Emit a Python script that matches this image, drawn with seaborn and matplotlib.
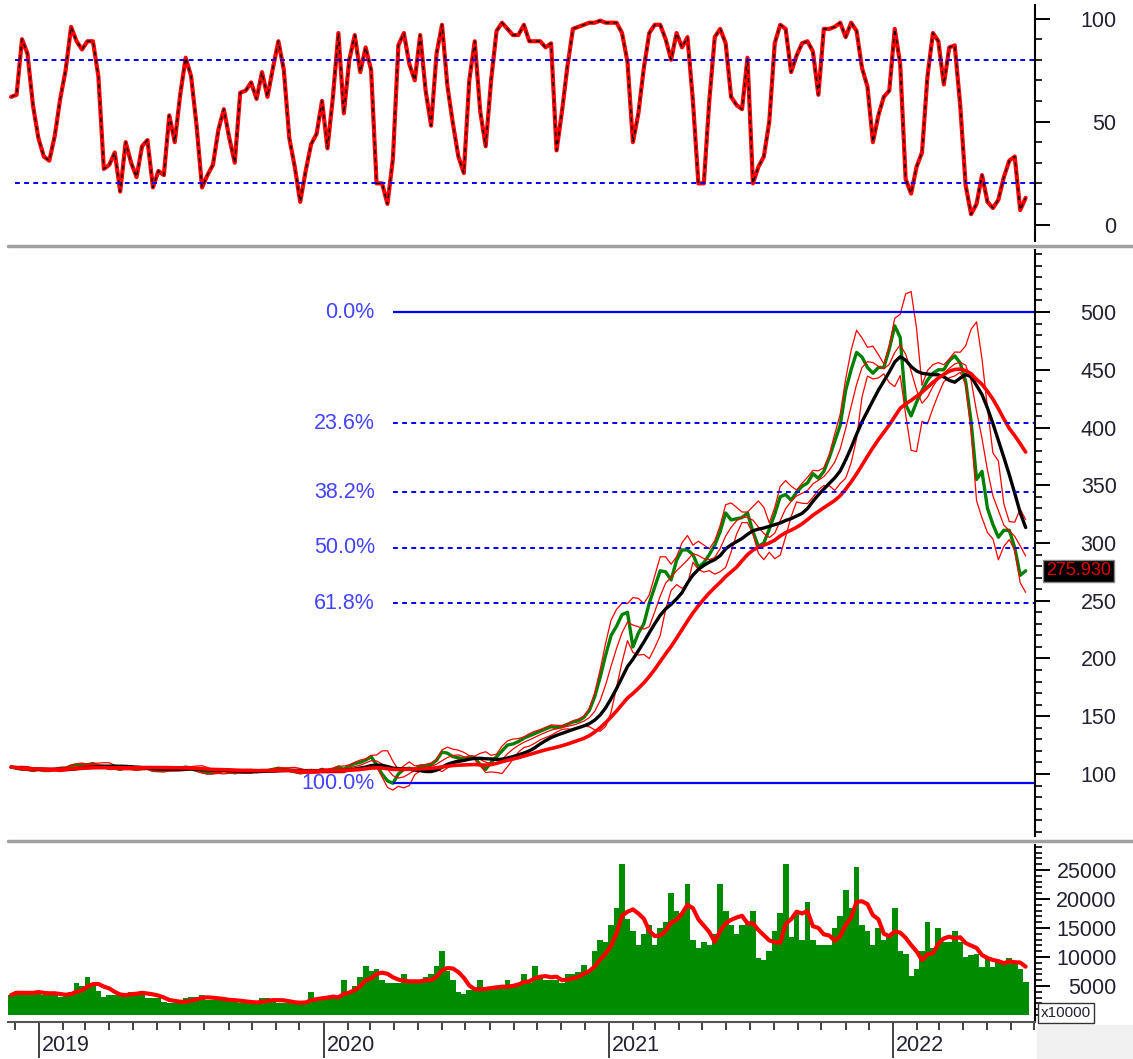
import pandas as pd
import matplotlib
matplotlib.use("Agg")
import matplotlib.pyplot as plt
import matplotlib.dates as mdates
import matplotlib.transforms as mtransforms
from matplotlib.lines import Line2D
from matplotlib.patches import Rectangle
import seaborn as sns

# weekly samples, first week starting 2018-11-26
start = "2018-11-26"

osc = [62, 63, 90, 83, 58, 42, 33, 31, 43, 61,
       75, 96, 89, 85, 89, 89, 72, 27, 29, 35,
       16, 40, 30, 23, 38, 41, 18, 26, 24, 53,
       40, 63, 81, 72, 48, 18, 24, 29, 46, 56,
       42, 30, 64, 65, 69, 61, 74, 62, 76, 89,
       75, 42, 28, 11, 26, 39, 44, 60, 37, 62,
       93, 54, 80, 92, 74, 86, 75, 20, 20, 10,
       32, 87, 93, 78, 70, 92, 65, 48, 83, 97,
       67, 49, 33, 25, 70, 89, 55, 38, 70, 94,
       98, 95, 92, 92, 97, 89, 89, 89, 86, 88,
       36, 55, 77, 95, 96, 97, 98, 98, 99, 98,
       98, 98, 93, 79, 40, 54, 76, 93, 97, 97,
       90, 80, 93, 86, 91, 60, 20, 20, 60, 91,
       95, 88, 62, 58, 56, 81, 20, 28, 33, 50,
       88, 97, 95, 74, 82, 88, 89, 84, 63, 95,
       95, 96, 98, 91, 98, 94, 76, 67, 40, 53,
       62, 65, 95, 78, 22, 15, 28, 35, 72, 93,
       89, 68, 86, 87, 58, 19, 5, 10, 24, 11,
       8, 12, 23, 31, 33, 7, 13]

close = [106, 105, 104, 104, 103, 104, 103, 103, 104, 105,
         105, 107, 108, 108, 108, 109, 107, 106, 105, 105,
         104, 106, 105, 104, 105, 105, 103, 103, 103, 104,
         104, 105, 106, 105, 103, 102, 101, 101, 102, 103,
         102, 101, 102, 103, 103, 102, 103, 103, 104, 105,
         104, 103, 102, 101, 102, 103, 102, 104, 102, 104,
         106, 104, 107, 109, 110, 112, 115, 108, 100, 94,
         92, 100, 104, 105, 104, 107, 107, 108, 112, 119,
         118, 115, 114, 113, 115, 114, 108, 104, 110, 115,
         120, 125, 126, 128, 131, 133, 135, 137, 139, 141,
         140, 141, 143, 145, 146, 149, 155, 167, 184, 203,
         220, 228, 238, 240, 210, 222, 230, 248, 262, 276,
         275, 268, 285, 294, 294, 290, 279, 283, 290, 298,
         310, 326, 320, 321, 322, 326, 310, 297, 300, 312,
         325, 340, 342, 337, 344, 349, 352, 360, 356, 362,
         374, 388, 402, 432, 450, 465, 461, 452, 447, 452,
         452, 468, 488, 478, 420, 410, 422, 432, 441, 447,
         450, 450, 458, 462, 456, 440, 405, 355, 362, 330,
         316, 305, 311, 311, 296, 272, 275.93]

volume = [3450, 4200, 3800, 3800, 3800, 4200, 3450, 3450, 3800, 3150,
          3600, 4000, 5500, 5000, 6500, 5600, 4200, 3150, 3450, 3450,
          3450, 3600, 4000, 3800, 4200, 2900, 2900, 2900, 2200, 2070,
          2070, 2200, 2900, 3150, 3150, 3400, 2600, 2600, 2600, 2600,
          2600, 2400, 2070, 2070, 2070, 2200, 2900, 2900, 2700, 2070,
          2070, 2070, 2070, 2300, 2300, 4000, 2900, 2900, 2900, 3150,
          3300, 6000, 4000, 5000, 6500, 8500, 7500, 8000, 6000, 5500,
          5500, 5500, 7000, 5500, 5500, 5500, 6500, 7000, 8500, 11000,
          7500, 6000, 4000, 3600, 4300, 4300, 6000, 4300, 4300, 4900,
          4900, 6000, 5000, 5500, 7000, 5500, 8500, 6500, 6000, 6000,
          6000, 5500, 7000, 7000, 7450, 8600, 7800, 11000, 13000, 12500,
          15500, 18500, 26000, 16500, 14500, 12000, 14000, 15500, 12000, 15000,
          16000, 21000, 18000, 17500, 22500, 13000, 11500, 12500, 12000, 14000,
          22500, 18000, 15500, 14000, 15500, 16000, 18000, 9800, 9500, 11000,
          14500, 17500, 26000, 13500, 17500, 13000, 19500, 13000, 12000, 12000,
          12000, 15000, 17000, 21500, 18500, 25500, 15500, 14500, 12000, 15000,
          13000, 13500, 18500, 11000, 10500, 6800, 8000, 11000, 16000, 11500,
          15000, 12500, 12500, 14500, 12500, 10000, 10300, 10500, 8300, 10000,
          8300, 9300, 8800, 9800, 9300, 8000, 5750]

fib_high = 500
fib_low = 92
fib_start = "2020-03-30"
fib_levels = [0.0, 23.6, 38.2, 50.0, 61.8, 100.0]
years = [2019, 2020, 2021, 2022]
last_price = close[-1]

df = pd.DataFrame({
    "date": pd.date_range(start, periods=len(close), freq="7D"),
    "close": close,
    "osc": osc,
    "volume": volume,
})
df["ma10"] = df["close"].rolling(10, min_periods=1).mean()
df["ma20"] = df["close"].rolling(20, min_periods=1).mean()
bb_mid = df["close"].rolling(4, min_periods=1).mean()
bb_sd = df["close"].rolling(4, min_periods=1).std(ddof=0).fillna(0)
df["bb_mid"] = bb_mid
df["bb_up"] = bb_mid + 2 * bb_sd
df["bb_lo"] = bb_mid - 2 * bb_sd
df["vol_ma"] = df["volume"].rolling(5, min_periods=1).mean()

sns.set_style("white")
plt.rcParams["font.family"] = ["Liberation Sans", "DejaVu Sans"]

W, H = 1133, 1059
fig = plt.figure(figsize=(W / 100, H / 100), dpi=100)


def rect(top, bottom, left=8, right=1035):
    return [left / W, 1 - bottom / H, (right - left) / W, (bottom - top) / H]


ax_osc = fig.add_axes(rect(5, 241))
ax_px = fig.add_axes(rect(250, 836))
ax_vol = fig.add_axes(rect(845, 1022))

t0 = pd.Timestamp(start)
xlim = (t0 - pd.Timedelta(days=4), t0 + pd.Timedelta(days=1314))
label_color = "#222233"


def right_axis(ax, major, minor):
    ax.yaxis.tick_right()
    ax.set_yticks(major, labels=[str(v) for v in major])
    ax.set_yticks(minor, minor=True)
    ax.tick_params(axis="y", which="both", right=True, left=False)
    ax.tick_params(axis="y", which="major", length=10.8, width=1.4, pad=48,
                   labelsize=15.5, labelcolor=label_color, color="black")
    ax.tick_params(axis="y", which="minor", length=5, width=1.2, color="black")
    plt.setp(ax.get_yticklabels(), ha="right")
    for side in ("left", "top", "bottom"):
        ax.spines[side].set_visible(False)
    ax.spines["right"].set_color("black")
    ax.spines["right"].set_linewidth(1.5)
    ax.set_xlim(*xlim)
    ax.set_xlabel("")
    ax.set_ylabel("")


# oscillator panel
sns.lineplot(data=df, x="date", y="osc", ax=ax_osc, color="#ff0000", lw=3, estimator=None)
sns.lineplot(data=df, x="date", y="osc", ax=ax_osc, color="black", lw=1, ls=(0, (3, 3)),
             estimator=None)
for lvl in (80, 20):
    ax_osc.axhline(lvl, xmin=0.007, color="#0000ff", lw=1.4, ls=(0, (2.5, 2.2)))
ax_osc.set_ylim(-8, 106.6)
right_axis(ax_osc, [0, 50, 100], list(range(0, 101, 10)))
ax_osc.tick_params(axis="x", bottom=False, labelbottom=False)

# price panel
sns.lineplot(data=df, x="date", y="close", ax=ax_px, color="#008000", lw=2.4, estimator=None)
for col in ("bb_up", "bb_mid", "bb_lo"):
    sns.lineplot(data=df, x="date", y=col, ax=ax_px, color="#ff0000", lw=0.9, estimator=None)
sns.lineplot(data=df, x="date", y="ma10", ax=ax_px, color="black", lw=2.4, estimator=None)
sns.lineplot(data=df, x="date", y="ma20", ax=ax_px, color="#ff0000", lw=2.6, estimator=None)

fib_x0 = pd.Timestamp(fib_start)
for lvl in fib_levels:
    price = fib_high - (fib_high - fib_low) * lvl / 100
    solid = lvl in (0.0, 100.0)
    ax_px.hlines(price, fib_x0, xlim[1], color="#0000ff", lw=1.6 if solid else 1.4,
                 ls="-" if solid else (0, (2.5, 2.2)))
    ax_px.annotate(f"{lvl:.1f}%", xy=(fib_x0, price), xytext=(-13, 0),
                   textcoords="offset points", ha="right", va="center",
                   fontsize=15.5, color="#4444ff")

ax_px.set_ylim(46.3, 553.7)
right_axis(ax_px, list(range(100, 501, 50)), list(range(50, 551, 10)))
ax_px.tick_params(axis="x", bottom=False, labelbottom=False)

trans = mtransforms.blended_transform_factory(ax_px.transAxes, ax_px.transData)
ax_px.text(1.0107, last_price, f"{last_price:.3f}", transform=trans, ha="left", va="center",
           fontsize=13, color="#e00000",
           bbox=dict(boxstyle="square,pad=0.15", fc="black", ec="#888888", lw=1))

# volume panel
ax_vol.bar(df["date"], df["volume"], width=7.4, color="#008c00", linewidth=0)
sns.lineplot(data=df, x="date", y="vol_ma", ax=ax_vol, color="#ff0000", lw=3, estimator=None)
ax_vol.set_ylim(-1207, 29300)
right_axis(ax_vol, list(range(5000, 25001, 5000)), list(range(0, 29001, 1000)))
ax_vol.spines["bottom"].set_visible(True)
ax_vol.spines["bottom"].set_color("#555555")
ax_vol.spines["bottom"].set_linewidth(1.5)

ax_vol.xaxis.set_major_locator(mdates.YearLocator())
ax_vol.xaxis.set_minor_locator(mdates.MonthLocator())
ax_vol.tick_params(axis="x", which="both", bottom=True, direction="out")
ax_vol.tick_params(axis="x", which="major", length=26, width=1.3, color="#333333",
                   labelbottom=False)
ax_vol.tick_params(axis="x", which="minor", length=5.8, width=1.3, color="#333333")
for y in years:
    ax_vol.text(pd.Timestamp(f"{y}-01-01") + pd.Timedelta(days=4), -0.135, str(y),
                transform=ax_vol.get_xaxis_transform(), ha="left", va="center",
                fontsize=15.5, color=label_color)

fig.text(1041 / W, 1 - 1013 / H, "x10000", ha="left", va="center", fontsize=11,
         color=label_color,
         bbox=dict(boxstyle="square,pad=0.2", fc="white", ec="#333333", lw=1))

# panel separators and corner filler
for yy in (246, 841):
    fig.add_artist(Line2D([8 / W, 1], [1 - yy / H] * 2, color="#a0a0a0", lw=2.5))
fig.add_artist(Rectangle((1037 / W, 0), 1 - 1037 / W, 34 / H, color="#f0f0f0", zorder=-1))

fig.savefig("out.png", dpi=100)
